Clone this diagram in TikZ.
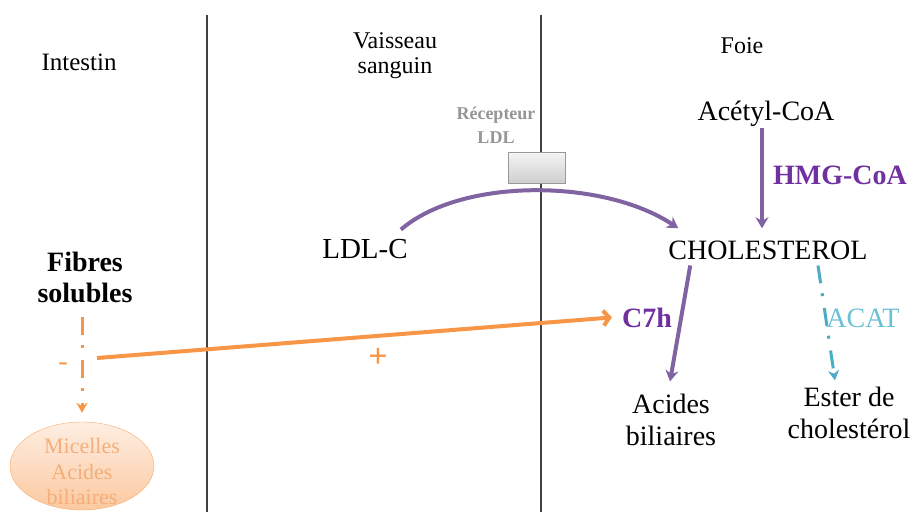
\documentclass[tikz,border=0pt]{standalone}
\usepackage{fontspec}
\setmainfont{Liberation Serif}
\usetikzlibrary{arrows.meta,shapes.geometric}
\definecolor{purpline}{HTML}{8064A2}
\definecolor{purptext}{HTML}{7030A0}
\definecolor{orangec}{HTML}{F79646}
\definecolor{tealc}{HTML}{4BACC6}
\definecolor{acatc}{HTML}{6CC0D6}
\definecolor{divider}{HTML}{404040}
\definecolor{recgray}{HTML}{959595}
\definecolor{mictext}{HTML}{F5AE7A}
\definecolor{mictop}{HTML}{FEEEE2}
\definecolor{micbot}{HTML}{FBC9A0}
\begin{document}
\begin{tikzpicture}[x=1pt,y=-1pt,
  lbl/.style={inner sep=2pt, anchor=base, align=center, font=\fontsize{28}{32}\selectfont},
  toplbl/.style={lbl, font=\fontsize{24}{25}\selectfont},
  boldlbl/.style={lbl, font=\bfseries\fontsize{28}{31}\selectfont},
  divline/.style={draw=divider, line width=2pt},
  parrow/.style={draw=purpline, line width=4pt, -{Stealth[length=11pt,width=13pt]}},
  oarrow/.style={draw=orangec, line width=4pt, -{Straight Barb[length=6pt,width=15pt]}},
  dashdot/.style={dash pattern=on 18pt off 10pt on 3pt off 12pt},
  tarrow/.style={draw=tealc, line width=3pt, dashdot, -{Stealth[length=10pt,width=11pt]}},
  odash/.style={draw=orangec, line width=3pt, dashdot, -{Stealth[length=10pt,width=11pt]}}
]
\useasboundingbox (0,0) rectangle (916,515);

% dividers
\draw[divline] (207,15) -- (207,512);
\draw[divline] (541,15) -- (541,512);

% column titles
\node[toplbl, font=\fontsize{25}{25}\selectfont] (intestin) at (79,70) {Intestin};
\node[toplbl] (vaisseau) at (395,73) {Vaisseau\\sanguin};
\node[toplbl] (foie) at (742,53) {Foie};

% receptor
\node[lbl, font=\bfseries\fontsize{18}{24}\selectfont, text=recgray] (reclbl) at (496,143) {Récepteur\\LDL};
\node[draw=gray!80, top color=gray!8, bottom color=gray!38, minimum width=57pt, minimum height=31pt, inner sep=0pt] (rec) at (536.5,167.5) {};

% text nodes
\node[lbl, font=\fontsize{29}{32}\selectfont] (ldlc) at (365,258) {LDL-C};
\node[lbl] (acetyl) at (766,120) {Acétyl-CoA};
\node[boldlbl, text=purptext] (hmg) at (840,184) {HMG-CoA};
\node[lbl] (chol) at (768,259) {CHOLESTEROL};
\node[boldlbl] (fibres) at (85,302) {Fibres\\solubles};
\node[boldlbl, text=purptext] (c7h) at (647,327) {C7h};
\node[lbl] (acides) at (671,445) {Acides\\biliaires};
\node[lbl, text=acatc] (acat) at (863,327) {ACAT};
\node[lbl] (ester) at (849,438) {Ester de\\cholestérol};
\node[lbl, text=orangec, font=\bfseries\fontsize{34}{36}\selectfont] (plus) at (378,367) {+};
\node[lbl, text=orangec] (minus) at (63,370) {-};
\node[ellipse, draw=orangec!80, top color=mictop, bottom color=micbot, minimum width=144pt, minimum height=88pt, inner sep=-12pt, align=center, text=mictext, font=\fontsize{22}{25.5}\selectfont] (mic) at (82,466) {\rule{0pt}{27pt}Micelles\\Acides\\biliaires};

\coordinate (fstart) at (97,358);

% connectors
\draw[parrow] ([shift={(-9,-7)}]ldlc.north east) .. controls +(60,-52) and +(-75,-50) .. ([shift={(12,-10)}]chol.north west);
\draw[parrow, shorten >=10pt] ([xshift=-4pt]acetyl.south) -- ([xshift=-6pt]chol.north);
\draw[parrow] ([shift={(24,4)}]chol.south west) -- ([shift={(-1,-10)}]acides.north);
\draw[tarrow] ([shift={(50,4)}]chol.south) -- ([shift={(-14,-4)}]ester.north);
\draw[oarrow] (fstart) -- ([xshift=-8pt]c7h.west);
\draw[odash, shorten <=12pt, shorten >=9pt] (fibres.south -| mic.north) -- (mic.north);
\end{tikzpicture}
\end{document}
